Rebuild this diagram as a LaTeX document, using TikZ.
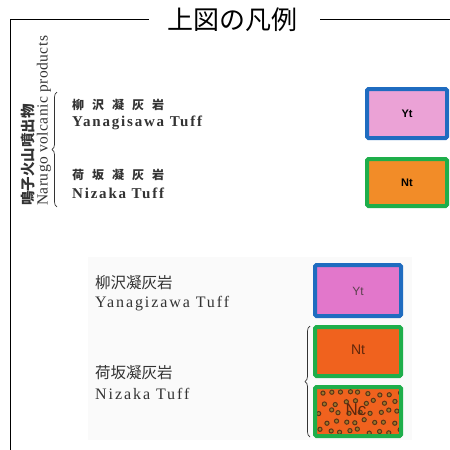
\documentclass[tikz,border=0pt]{standalone}
\usepackage{fontspec}
\setmainfont{Liberation Serif}
\newfontfamily\jp{Noto Sans CJK JP}
\newfontfamily\lab{Liberation Sans}
\usetikzlibrary{decorations.pathreplacing}
\definecolor{fblue}{HTML}{1F6CC0}
\definecolor{fgreen}{HTML}{1EAE4A}
\definecolor{pinkA}{HTML}{EBA2D6}
\definecolor{orangeA}{HTML}{F28C28}
\definecolor{pinkB}{HTML}{E277CB}
\definecolor{orangeB}{HTML}{F0621E}
\definecolor{dotc}{HTML}{5A3418}
\definecolor{dotfill}{HTML}{A0782A}
\definecolor{ink}{HTML}{333333}
\tikzset{
  frameline/.style={line width=1pt, black},
  unitbox/.style={draw=ink, line width=0.6pt},
  outerblue/.style={draw=fblue, line width=4pt, rounded corners=1.5pt},
  outergreen/.style={draw=fgreen, line width=4pt, rounded corners=1.5pt},
  boxlab/.style={font=\lab\bfseries\fontsize{11}{12}\selectfont},
  jlab/.style={anchor=west, font=\jp\bfseries\fontsize{12}{13}\selectfont, text=ink, inner sep=0pt},
  elab/.style={anchor=west, font=\bfseries\fontsize{15}{16}\selectfont\addfontfeature{LetterSpace=12}, text=ink, inner sep=0pt},
  jlab2/.style={anchor=west, font=\jp\fontsize{15.5}{16}\selectfont, text=ink, inner sep=0pt},
  elab2/.style={anchor=west, font=\fontsize{16}{17}\selectfont\addfontfeature{LetterSpace=12}, text=ink, inner sep=0pt},
  bracestyle/.style={draw=ink, line width=0.7pt, decorate, decoration={brace, amplitude=5pt}},
  ring/.style={draw=dotc, line width=1pt, fill=dotfill},
}
\begin{document}
\begin{tikzpicture}[x=1pt,y=-1pt]
\useasboundingbox (0,0) rectangle (450,450);
\fill[white] (0,0) rectangle (450,450);
% faint background of the lower panel
\fill[black!2] (88,257) rectangle (412,440);

% frame and title
\node[font=\jp\fontsize{26}{27}\selectfont, inner sep=0pt] (title) at (232,20) {上図の凡例};
\coordinate (tl) at (10,19);
\coordinate (bl) at (10,450);
\coordinate (tr) at (450,19);
\draw[frameline] (title.west) ++(-18,-1) coordinate (tla) -- (tl) -- (bl);
\draw[frameline] (title.east) ++(23,-1) coordinate (tra) -- (tr);

% vertical labels
\node[rotate=90, anchor=west, font=\jp\bfseries\fontsize{14.5}{15}\selectfont, text=ink, inner sep=0pt] (vj) at (28,206) {鳴子火山噴出物};
\node[rotate=90, anchor=west, font=\fontsize{15.5}{16}\selectfont\addfontfeature{LetterSpace=3}, text=ink, inner sep=0pt] (ve) at (44,206) {Narugo volcanic products};
\coordinate (b1t) at (57,92);
\coordinate (b1b) at (57,207);
\draw[bracestyle] (b1b) -- (b1t);

% upper labels
\node[jlab] (j1) at (72,105) {柳\hspace{8pt}沢\hspace{8pt}凝\hspace{8pt}灰\hspace{8pt}岩};
\node[elab] (e1) at (72,123) {Yanagisawa Tuff};
\node[jlab] (j2) at (72,175) {荷\hspace{8pt}坂\hspace{8pt}凝\hspace{8pt}灰\hspace{8pt}岩};
\node[elab] (e2) at (72,193) {Nizaka Tuff};

% upper boxes
\path[fill=pinkA, unitbox] (367,89) rectangle (447,138);
\draw[outerblue] (367,89) rectangle (447,138);
\node[boxlab] (yt1) at (407,114) {Yt};
\path[fill=orangeA, unitbox] (367,159) rectangle (447,206);
\draw[outergreen] (367,159) rectangle (447,206);
\node[boxlab] (nt1) at (407,183) {Nt};

% lower labels
\node[jlab2] (j3) at (95,283) {柳沢凝灰岩};
\node[elab2] (e3) at (95,304) {Yanagizawa Tuff};
\node[jlab2] (j4) at (95,373) {荷坂凝灰岩};
\node[elab2] (e4) at (95,394) {Nizaka Tuff};

% lower boxes
\path[fill=pinkB, unitbox] (315,265) rectangle (401,316);
\draw[outerblue] (315,265) rectangle (401,316);
\node[font=\lab\fontsize{12}{13}\selectfont, text=black!75!magenta] (yt2) at (358,291) {Yt};
\path[fill=orangeB, unitbox] (315,327) rectangle (401,376);
\draw[outergreen] (315,327) rectangle (401,376);
\node[font=\lab\fontsize{14}{15}\selectfont, text=black!60!orangeB] (nt2) at (358,350) {Nt};
\path[fill=orangeB, unitbox] (315,387) rectangle (401,436);
\begin{scope}
\clip (317,389) rectangle (399,434);
\pgfmathsetseed{11}
\foreach \r in {0,...,4}{
  \foreach \c in {0,...,8}{
    \pgfmathsetmacro{\xx}{321+\c*9.6+rand*3+mod(\r,2)*4}
    \pgfmathsetmacro{\yy}{393+\r*9.5+rand*2.5}
    \draw[ring] (\xx,\yy) circle (2.1);
  }
}
\end{scope}
\draw[outergreen] (315,387) rectangle (401,436);
\node[font=\lab\fontsize{17}{18}\selectfont, text=black!60!orangeB, inner sep=0pt] (nc) at (356,410) {Nc};
\coordinate (b2t) at (310,326);
\coordinate (b2b) at (310,437);
\draw[bracestyle] (b2b) -- (b2t);
\end{tikzpicture}
\end{document}
